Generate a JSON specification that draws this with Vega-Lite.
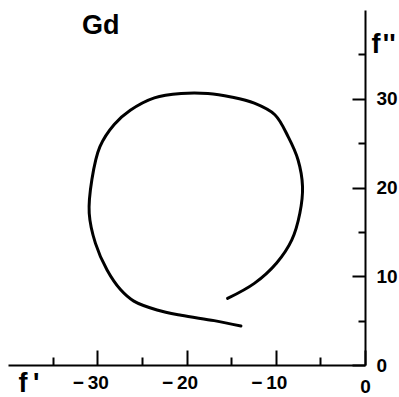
{
  "$schema": "https://vega.github.io/schema/vega-lite/v6.json",
  "width": 357,
  "height": 355,
  "autosize": {"type": "none"},
  "padding": {"left": 8, "top": 10, "right": 34, "bottom": 32},
  "background": "white",
  "config": {"view": {"stroke": null}, "font": "Liberation Sans"},
  "title": {
    "text": "Gd",
    "anchor": "start",
    "frame": "group",
    "orient": "top",
    "offset": 0,
    "dx": 74,
    "dy": 51,
    "baseline": "alphabetic",
    "fontSize": 27,
    "fontWeight": "bold",
    "font": "Liberation Sans",
    "color": "black"
  },
  "data": {
    "values": [
      {"t": 1, "fp": -13.9, "fpp": 4.4},
      {"t": 2, "fp": -16.9, "fpp": 5.0},
      {"t": 3, "fp": -20.6, "fpp": 5.6},
      {"t": 4, "fp": -23.3, "fpp": 6.2},
      {"t": 5, "fp": -25.9, "fpp": 7.2},
      {"t": 6, "fp": -27.4, "fpp": 8.5},
      {"t": 7, "fp": -28.9, "fpp": 10.7},
      {"t": 8, "fp": -30.2, "fpp": 13.7},
      {"t": 9, "fp": -30.9, "fpp": 17.1},
      {"t": 10, "fp": -30.6, "fpp": 20.9},
      {"t": 11, "fp": -29.7, "fpp": 24.6},
      {"t": 12, "fp": -28.1, "fpp": 27.1},
      {"t": 13, "fp": -26.3, "fpp": 28.7},
      {"t": 14, "fp": -23.6, "fpp": 30.1},
      {"t": 15, "fp": -20.6, "fpp": 30.6},
      {"t": 16, "fp": -17.6, "fpp": 30.6},
      {"t": 17, "fp": -15.0, "fpp": 30.2},
      {"t": 18, "fp": -12.4, "fpp": 29.5},
      {"t": 19, "fp": -10.1, "fpp": 28.2},
      {"t": 20, "fp": -8.6, "fpp": 25.7},
      {"t": 21, "fp": -7.5, "fpp": 23.1},
      {"t": 22, "fp": -7.0, "fpp": 20.1},
      {"t": 23, "fp": -7.3, "fpp": 17.1},
      {"t": 24, "fp": -8.2, "fpp": 14.1},
      {"t": 25, "fp": -9.9, "fpp": 11.5},
      {"t": 26, "fp": -12.4, "fpp": 9.2},
      {"t": 27, "fp": -15.4, "fpp": 7.5}
    ]
  },
  "mark": {"type": "line", "interpolate": "catmull-rom", "color": "black", "strokeWidth": 3, "strokeCap": "round"},
  "encoding": {
    "x": {
      "field": "fp",
      "type": "quantitative",
      "scale": {"domain": [-40, 0], "nice": false, "zero": false},
      "axis": {
        "orient": "bottom",
        "values": [-35, -30, -25, -20, -15, -10, -5, 0],
        "labelExpr": "datum.value % 10 === 0 ? (datum.value < 0 ? '\u2212\u2009' + abs(datum.value) : '0') : ''",
        "tickSize": {"condition": {"test": "datum.value % 10 === 0", "value": -15}, "value": -8},
        "tickWidth": 2,
        "tickColor": "black",
        "domainColor": "black",
        "domainWidth": 2,
        "labelFontSize": 19,
        "labelFontWeight": "bold",
        "labelColor": "black",
        "labelPadding": {"condition": {"test": "datum.value === 0", "value": 27}, "value": 23},
        "labelOffset": {"condition": {"test": "datum.value < 0", "value": -7}, "value": 0},
        "labelFlush": false,
        "labelOverlap": false,
        "grid": false,
        "title": "f\u2009'",
        "titleAnchor": "start",
        "titleX": 10,
        "titleY": 26,
        "titleAlign": "left",
        "titleBaseline": "alphabetic",
        "titleFontSize": 27,
        "titleFontWeight": "bold",
        "titleColor": "black"
      }
    },
    "y": {
      "field": "fpp",
      "type": "quantitative",
      "scale": {"domain": [0, 40], "nice": false, "zero": false},
      "axis": {
        "orient": "right",
        "values": [0, 5, 10, 15, 20, 25, 30, 35],
        "labelExpr": "datum.value % 10 === 0 ? datum.value + '' : ''",
        "tickSize": {"condition": {"test": "datum.value % 10 === 0", "value": -13}, "value": -7},
        "tickWidth": 2,
        "tickColor": "black",
        "domainColor": "black",
        "domainWidth": 2,
        "labelFontSize": 19,
        "labelFontWeight": "bold",
        "labelColor": "black",
        "labelPadding": 24,
        "labelFlush": false,
        "labelOverlap": false,
        "grid": false,
        "title": "f\u200a''",
        "titleAngle": 0,
        "titleX": 6,
        "titleY": 42,
        "titleAlign": "left",
        "titleBaseline": "alphabetic",
        "titleFontSize": 27,
        "titleFontWeight": "bold",
        "titleColor": "black"
      }
    },
    "order": {"field": "t"}
  }
}
